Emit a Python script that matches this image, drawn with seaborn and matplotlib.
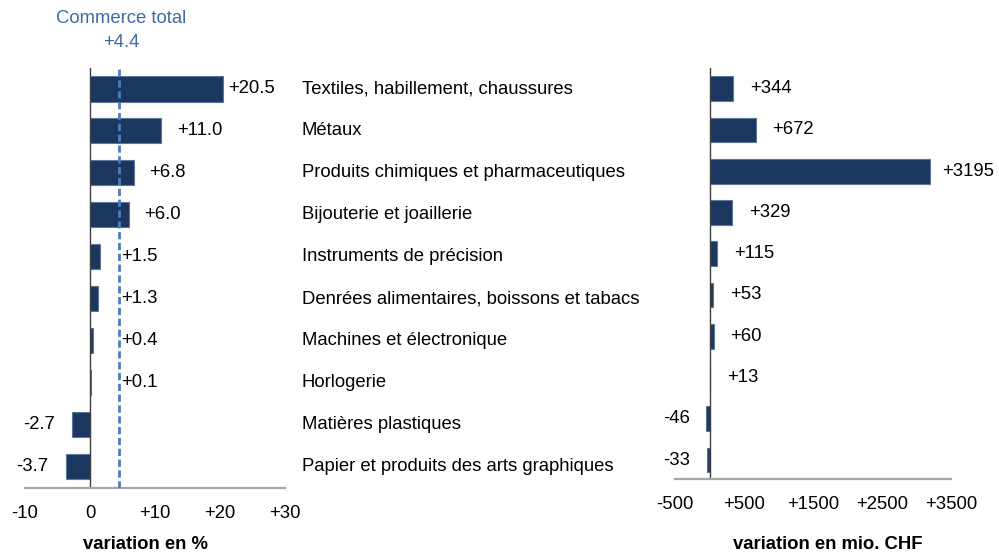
import numpy as np
import pandas as pd
import matplotlib
matplotlib.use("Agg")
import matplotlib.pyplot as plt
import matplotlib.transforms as mtransforms
import seaborn as sns

categories = [
    "Textiles, habillement, chaussures",
    "Métaux",
    "Produits chimiques et pharmaceutiques",
    "Bijouterie et joaillerie",
    "Instruments de précision",
    "Denrées alimentaires, boissons et tabacs",
    "Machines et électronique",
    "Horlogerie",
    "Matières plastiques",
    "Papier et produits des arts graphiques",
]
pct_change = [20.5, 11.0, 6.8, 6.0, 1.5, 1.3, 0.4, 0.1, -2.7, -3.7]
chf_change = [344, 672, 3195, 329, 115, 53, 60, 13, -46, -33]
total_change = 4.4

pct_ticks = [-10, 0, 10, 20, 30]
chf_ticks = [-500, 500, 1500, 2500, 3500]

sns.set_theme(style="white")
plt.rcParams["font.family"] = ["Liberation Sans", "DejaVu Sans"]
plt.rcParams["text.color"] = "black"

NAVY = "#1b375f"
DASH = "#4a7ebf"
FS = 13.3

df = pd.DataFrame({"cat": categories, "pct": pct_change, "chf": chf_change})

fig = plt.figure(figsize=(9.99, 5.56), dpi=100)
ax1 = fig.add_axes([0.025, 0.1223, 0.2603, 0.7554])
ax2 = fig.add_axes([0.6757, 0.1385, 0.2763, 0.7392])


def draw_panel(ax, col, xlim, ticks, ylim):
    sns.barplot(data=df, x=col, y="cat", orient="h", color=NAVY, width=0.6,
                saturation=1, edgecolor="#5f7797", linewidth=0.8, ax=ax)
    ax.set_xlim(*xlim)
    ax.set_ylim(*ylim)
    ax.set_xticks(ticks)
    ax.set_xticklabels([f"+{t}" if t > 0 else str(t) for t in ticks], fontsize=FS)
    ax.set_yticks([])
    ax.set_xlabel("")
    ax.set_ylabel("")
    for s in ["top", "right", "left"]:
        ax.spines[s].set_visible(False)
    ax.spines["bottom"].set_color("#a6a6a6")
    ax.spines["bottom"].set_linewidth(1.6)
    ax.tick_params(axis="x", length=0, pad=12, colors="black", labelcolor="black")
    ax.axvline(0, color="#404040", lw=1.0, zorder=1.5)


draw_panel(ax1, "pct", (-10, 30), pct_ticks, (9.52, -0.5))
draw_panel(ax2, "chf", (-500, 3500), chf_ticks, (9.46, -0.5))

# total commerce reference line
ax1.axvline(total_change, color=DASH, lw=2.0, dashes=(2.6, 1.3), zorder=4)
fig.text(0.1215, 0.967, "Commerce total", color="#3d6aa3", fontsize=FS,
         ha="center", va="center")
fig.text(0.1215, 0.924, f"+{total_change}", color="#3d6aa3", fontsize=FS,
         ha="center", va="center")

# value labels, left panel
for i, v in enumerate(pct_change):
    txt = f"+{v:.1f}" if v >= 0 else f"{v:.1f}"
    if v >= 0:
        if v < total_change:
            ax1.annotate(txt, (total_change, i), xytext=(1.5, 0), textcoords="offset points",
                         ha="left", va="center", fontsize=FS, color="black")
        else:
            off = 3.5 if v > 15 else 11
            ax1.annotate(txt, (v, i), xytext=(off, 0), textcoords="offset points",
                         ha="left", va="center", fontsize=FS, color="black")
    else:
        ax1.annotate(txt, (v, i), xytext=(-13, 0), textcoords="offset points",
                     ha="right", va="center", fontsize=FS, color="black")

# value labels, right panel
for i, v in enumerate(chf_change):
    txt = f"+{v}" if v >= 0 else str(v)
    off = 9 if v > 2000 else 12
    ax2.annotate(txt, (v, i), xytext=(off if v >= 0 else -12, 0), textcoords="offset points",
                 ha="left" if v >= 0 else "right", va="center", fontsize=FS, color="black")

# category names between the panels
trans = mtransforms.blended_transform_factory(fig.transFigure, ax1.transData)
for i, c in enumerate(categories):
    ax1.text(0.3023, i, c, transform=trans, ha="left", va="center", fontsize=FS,
             color="black", clip_on=False)

fig.text(0.146, 0.02, "variation en %", fontsize=FS, fontweight="bold",
         ha="center", va="center", color="black")
fig.text(0.829, 0.02, "variation en mio. CHF", fontsize=FS, fontweight="bold",
         ha="center", va="center", color="black")

fig.savefig("out.png", dpi=100)
